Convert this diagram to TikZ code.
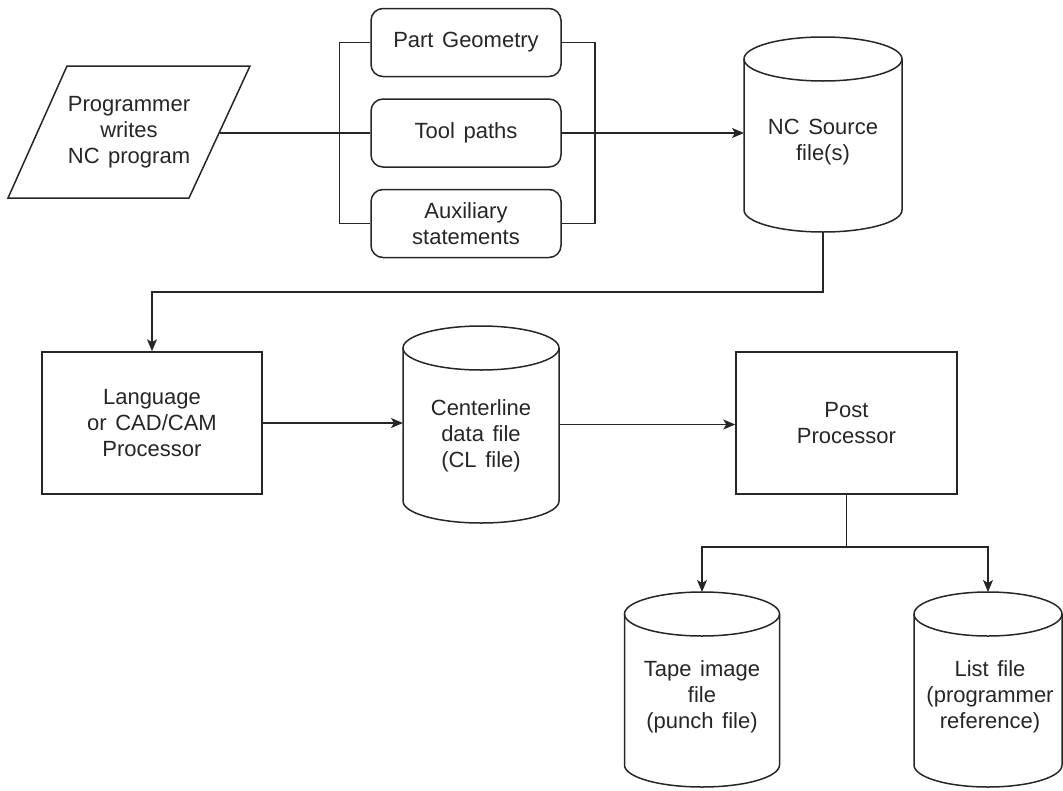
\documentclass[tikz,border=0pt]{standalone}
\usepackage{fontspec}
\setmainfont[WordSpace={1.4,0.5,0.3}]{Liberation Sans}
\usetikzlibrary{arrows.meta}
\newcommand\dbcylinder[5]{% name, cx, y top ellipse centre, y bottom ellipse centre, x radius
  \node[cylbody, minimum width={2*#5pt}, minimum height={(#4-#3+44)*1pt}] (#1) at (#2,{(#3+#4)/2}) {};
  \draw (#2-#5,#3) -- (#2-#5,#4) arc[start angle=180, end angle=360, x radius=#5pt, y radius=22pt] -- (#2+#5,#3);
  \draw (#2,#3) ellipse [x radius=#5pt, y radius=22pt];
}
\begin{document}
\begin{tikzpicture}[x=1pt,y=-1pt,
  line width=1.5pt, color=black!85,
  every node/.style={font=\fontsize{22}{26}\selectfont, align=center},
  rbox/.style={draw, rounded corners=12pt, minimum width=190pt, minimum height=68pt, inner sep=0pt},
  pbox/.style={draw, rectangle, inner sep=0pt},
  cylbody/.style={rectangle, inner sep=0pt, outer sep=0pt},
  arr/.style={-{Stealth[length=12pt,width=10pt,inset=3pt]}}]
\useasboundingbox (0,0) rectangle (1063,790);

% input parallelogram
\coordinate (p1) at (67,66);
\coordinate (p2) at (250,66);
\coordinate (p3) at (189,198);
\coordinate (p4) at (8,198);
\draw (p1) -- (p2) -- (p3) -- (p4) -- cycle;
\node (prog) at (129,132) {Programmer\\writes\\NC program};
\coordinate (progR) at (219.5,133);

% three rounded boxes
\node[rbox] (pg) at (466,42.5) {Part Geometry};
\node[rbox] (tp) at (466,133) {Tool paths};
\node[rbox] (aux) at (466,223.5) {Auxiliary\\statements};

% NC source
\dbcylinder{nc}{823}{59}{210}{79}
\node (nct) at (823,142.5) {NC Source\\file(s)};

% middle row
\node[pbox, minimum width=220pt, minimum height=142pt] (lang) at (152,423) {Language\\or CAD/CAM\\Processor};
\dbcylinder{cl}{481}{348}{501}{78}
\node (clt) at (481,435.5) {Centerline\\data file\\(CL file)};
\node[pbox, minimum width=221pt, minimum height=142pt] (post) at (846.5,423) {Post\\Processor};

% bottom row
\dbcylinder{tape}{702}{614}{765}{77.5}
\node (tapet) at (702,697) {Tape image\\file\\(punch file)};
\dbcylinder{list}{988}{614}{765}{74}
\node (listt) at (990,697) {List file\\(programmer\\reference)};

% connectors
\draw (progR) -- (tp.west);
\draw (pg.west) -- ++(-31,0) |- (aux.west);
\draw (pg.east) -- ++(33,0) |- (aux.east);
\draw[arr] (tp.east) -- (tp.east -| nc.west);
\draw[arr] (nc.south) -- ++(0,60) -| (lang.north);
\draw[arr] (lang.east) -- (lang.east -| cl.west);
\draw[arr] (cl.east) -- (cl.east -| post.west);
\draw (post.south) -- ++(0,52) coordinate (br);
\draw[arr] (br) -| (tape.north);
\draw[arr] (br) -| (list.north);
\end{tikzpicture}
\end{document}
